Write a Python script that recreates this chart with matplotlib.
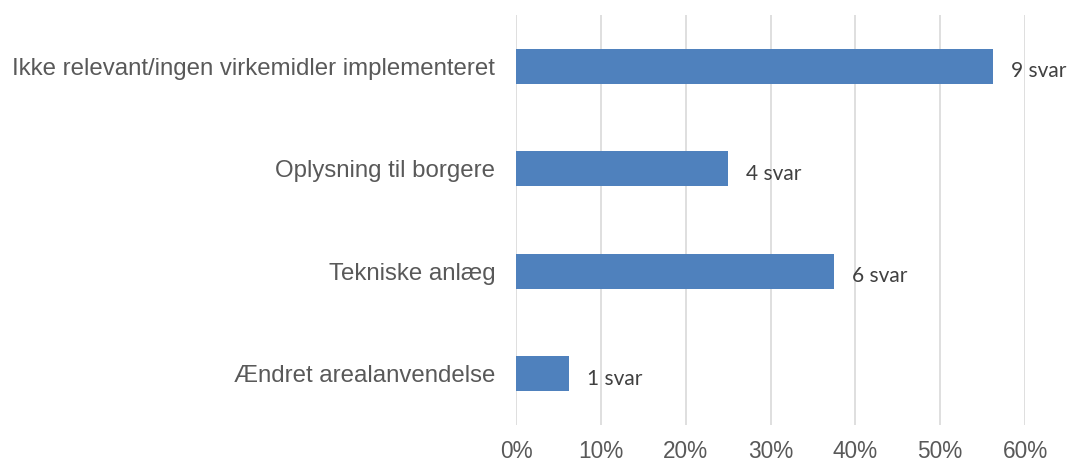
import matplotlib
matplotlib.use("Agg")
import matplotlib.pyplot as plt
from matplotlib.ticker import FuncFormatter

categories = ["Ikke relevant/ingen virkemidler implementeret",
              "Oplysning til borgere",
              "Tekniske anlæg",
              "Ændret arealanvendelse"]
counts = [9, 4, 6, 1]
total = 16
shares = [c / total for c in counts]
labels = [f"{c} svar" for c in counts]
xticks = [0, 0.1, 0.2, 0.3, 0.4, 0.5, 0.6]

fig = plt.figure(figsize=(10.73, 4.65), dpi=100)
ax = fig.add_axes([516/1073, 1-425/465, (1025-516)/1073, (425-15)/465])

ypos = list(range(len(categories)))
ax.barh(ypos, shares, height=0.34, color="#4F81BD", zorder=3)
ax.set_ylim(len(categories) - 0.5, -0.5)
ax.set_xlim(0, 0.6)
ax.set_xticks(xticks)
ax.xaxis.set_major_formatter(FuncFormatter(lambda v, p: f"{v*100:.0f}%"))
ax.set_yticks(ypos)
ax.set_yticklabels(categories)
ax.grid(axis="x", color="#D9D9D9", linewidth=1.2, zorder=0)
for s in ax.spines.values():
    s.set_visible(False)
ax.tick_params(axis="both", length=0, colors="#595959")
ax.tick_params(axis="y", labelsize=17.3, pad=15)
ax.tick_params(axis="x", labelsize=16.3, pad=11)
for lab in ax.get_yticklabels() + ax.get_xticklabels():
    lab.set_family(["Liberation Sans", "DejaVu Sans"])
    lab.set_color("#595959")

for y, v, t in zip(ypos, shares, labels):
    ax.annotate(t, xy=(v, y), xytext=(18, -5), textcoords="offset pixels",
                va="center", ha="left", fontsize=15, color="#404040",
                family=["Lato", "DejaVu Sans"], zorder=4)

fig.savefig("out.png", dpi=100)
